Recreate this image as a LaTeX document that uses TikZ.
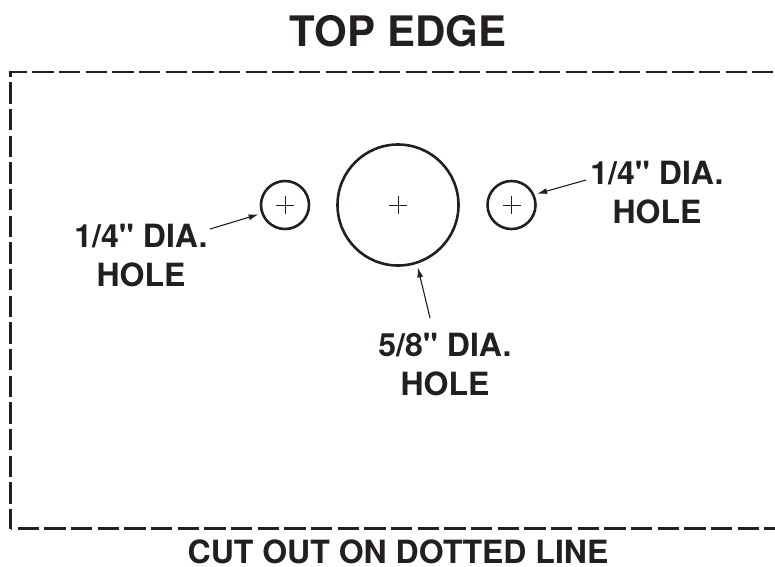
\documentclass[tikz,border=0pt]{standalone}
\usepackage{fontspec}
\setmainfont[Ligatures=TeXOff]{TeX Gyre Heros}
\usetikzlibrary{calc,arrows.meta}
\definecolor{ink}{HTML}{231F20}
\tikzset{
    hole/.style={circle, draw=ink, line width=2.6pt, inner sep=0pt, outer sep=0pt},
    lbl/.style={text=ink, font=\fontsize{32}{39}\selectfont\bfseries, align=center, inner sep=0pt},
    cutline/.style={draw=ink, line width=2.8pt, dash pattern=on 21.3pt off 5.36pt},
    leader/.style={draw=ink, line width=1.1pt, -{Latex[length=10pt,width=6pt]}, shorten >=4pt},
}

\begin{document}
\begin{tikzpicture}[x=1pt, y=-1pt]
        \useasboundingbox (0,0) rectangle (775,566);
        \coordinate (TL) at (10.7,72);
        \coordinate (TR) at (775,72);
        \coordinate (BL) at (10.7,529);
        \coordinate (BR) at (775,528.3);
        
        % Cut line.
        \draw[cutline, dash phase=19.6pt] (TL |- BR) -- (BR);
        \draw[cutline, dash phase=3.7pt] ($(TL)+(-1.3,0)$) -- (TR);
        \draw[cutline, dash phase=16.3pt] (TL) -- (BL);
        
        % Holes.
        \node[hole, minimum size=48pt] (holeL) at (285,205) {};
        \node[hole, minimum size=121pt] (holeM) at (398,205) {};
        \node[hole, minimum size=48pt] (holeR) at (511.5,205) {};
        \foreach \h in {holeL,holeM,holeR} {
            \draw[ink, line width=1pt] (\h) ++(-9,0) -- ++(18,0);
            \draw[ink, line width=1pt] (\h) ++(0,-9) -- ++(0,18);
        }
        
        % Labels.
        \node[lbl, font=\fontsize{42}{48}\selectfont\bfseries] (title) at (398,31) {TOP EDGE};
        \node[lbl] (lblL) at (141,256) {1/4" DIA.\\HOLE};
        \node[lbl] (lblR) at (657,193) {1/4" DIA.\\HOLE};
        \node[lbl] (lblM) at (445,365) {5/8" DIA.\\HOLE};
        \node[lbl] (cut) at (398,552) {CUT OUT ON DOTTED LINE};
        
        % Leaders.
        \coordinate (startL) at (210,229);
        \coordinate (startR) at (586,180);
        \coordinate (startM) at (430,318);
        \draw[leader] (startL) -- (holeL.200);
        \draw[leader] (startR) -- (holeR.25);
        \draw[leader, shorten >=5pt] (startM) -- (holeM.-72);
    \end{tikzpicture}
\end{document}
